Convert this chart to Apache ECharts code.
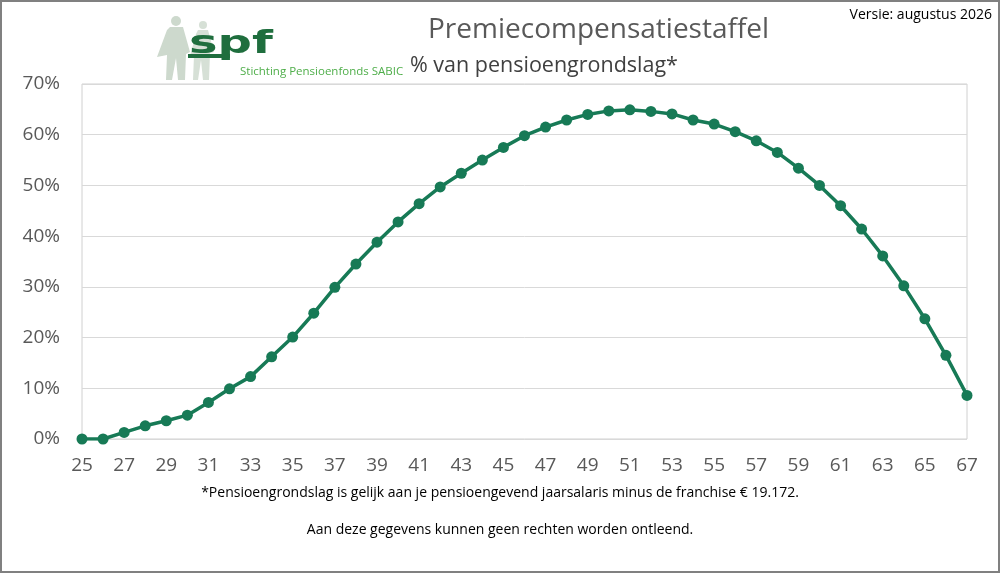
<!DOCTYPE html>
<html>
<head>
<meta charset="utf-8">
<script src="https://cdn.jsdelivr.net/npm/echarts@6/dist/echarts.min.js"></script>
<style>
  html, body { margin: 0; padding: 0; background: #fff; }
  #chart { width: 1000px; height: 573px; }
</style>
</head>
<body>
<div id="chart"></div>
<script>
(function(){
	// leeftijden en premiecompensatie (% van pensioengrondslag)
	var ages = [25,26,27,28,29,30,31,32,33,34,35,36,37,38,39,40,41,42,43,44,45,46,
		47,48,49,50,51,52,53,54,55,56,57,58,59,60,61,62,63,64,65,66,67];
	var values = [0,0,1.3,2.6,3.6,4.7,7.2,9.9,12.3,16.2,20.1,24.8,29.9,34.5,38.8,42.8,46.4,49.7,
		52.4,55.0,57.5,59.8,61.5,62.9,64.0,64.7,64.9,64.6,64.1,62.9,62.1,60.6,58.8,56.5,53.4,
		50.0,46.0,41.4,36.1,30.2,23.7,16.5,8.6];
	var yTicks = [0,10,20,30,40,50,60,70];

	var font = '"Open Sans", "Noto Sans", sans-serif';
	var chart = echarts.init(document.getElementById('chart'));
	var option = {
		backgroundColor: '#fff',
		animation: false,
		textStyle: { fontFamily: font },
		grid: {
			left: 82, right: 33, top: 84, bottom: 134,
			show: true, borderColor: '#d0d0d0', borderWidth: 1
		},
		xAxis: {
			type: 'category',
			data: ages,
			boundaryGap: false,
			axisLine: { show: false },
			axisTick: { show: false },
			axisLabel: { interval: 1, color: '#595959', fontSize: 19, margin: 17, fontFamily: font }
		},
		yAxis: {
			type: 'value',
			min: yTicks[0],
			max: yTicks[yTicks.length - 1],
			interval: 10,
			axisLine: { show: false },
			axisTick: { show: false },
			splitLine: { lineStyle: { color: '#d9d9d9', width: 1 } },
			axisLabel: { formatter: '{value}%', color: '#595959', fontSize: 19, margin: 22, fontFamily: font }
		},
		series: [{
			type: 'line',
			data: values,
			symbol: 'circle',
			symbolSize: 11,
			lineStyle: { color: '#177a56', width: 3.5 },
			itemStyle: { color: '#177a56' }
		}],
		graphic: [
			// buitenrand
			{ type: 'rect', shape: { x: 1, y: 1, width: 998, height: 571 }, style: { fill: 'none', stroke: '#808080', lineWidth: 2 }, silent: true },
			// logo: figuren
			{ type: 'circle', shape: { cx: 176, cy: 21, r: 5 }, style: { fill: '#cdd9cd' } },
			{ type: 'polygon', shape: { points: [[170,27],[183,27],[190,52],[186,54],[185,80],[178,80],[176,58],[172,80],[166,80],[167,55],[157,57],[167,30]] }, style: { fill: '#cdd9cd' } },
			{ type: 'circle', shape: { cx: 203, cy: 25, r: 4 }, style: { fill: '#d6e0d6' } },
			{ type: 'polygon', shape: { points: [[198,30],[208,30],[214,52],[210,53],[209,80],[203,80],[201,60],[198,80],[193,80],[194,55],[190,56],[196,34]] }, style: { fill: '#d6e0d6' } },
			// logo: tekst
			{ type: 'text', x: 189, y: 61, scaleY: 0.66, style: { text: 'spf', font: 'bold 48px "DejaVu Sans", sans-serif', fill: '#1f6e3e', verticalAlign: 'bottom' } },
			{ type: 'rect', shape: { x: 188, y: 54, width: 42, height: 4 }, style: { fill: '#1f6e3e' } },
			{ type: 'text', left: 240, top: 66, style: { text: 'Stichting Pensioenfonds SABIC', font: '11.5px "Open Sans", sans-serif', fill: '#4fae4a' } },
			// titels
			{ type: 'text', left: 428, top: 16, style: { text: 'Premiecompensatiestaffel', font: '28px ' + font, fill: '#595959' } },
			{ type: 'text', left: 410, top: 55, style: { text: '% van pensioengrondslag*', font: '21.5px ' + font, fill: '#404040' } },
			{ type: 'text', right: 8, top: 8, style: { text: 'Versie: augustus 2026', font: '14px ' + font, fill: '#000' } },
			// voetnoten
			{ type: 'text', left: 'center', top: 486, style: { text: '*Pensioengrondslag is gelijk aan je pensioengevend jaarsalaris minus de franchise € 19.172.', font: '14px ' + font, fill: '#000' } },
			{ type: 'text', left: 'center', top: 523, style: { text: 'Aan deze gegevens kunnen geen rechten worden ontleend.', font: '14px ' + font, fill: '#000' } }
		]
	};
	chart.setOption(option);
})();
</script>
</body>
</html>
